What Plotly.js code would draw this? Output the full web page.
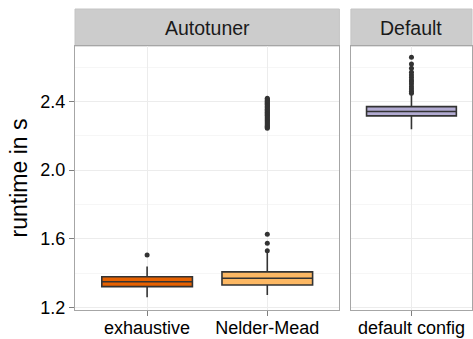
<!DOCTYPE html>
<html>
<head>
<meta charset="utf-8">
<script src="https://cdn.plot.ly/plotly-3.0.1.min.js"></script>
<style>html,body{margin:0;padding:0;background:#fff;}#chart{width:473px;height:339px;}</style>
</head>
<body>
<div id="chart"></div>
<script>
// Panels (facets)
const panels = ["Autotuner", "Default"];
// Categories per panel
const autoCats = ["exhaustive", "Nelder-Mead"];
const defCats = ["default config"];
// Box statistics [exhaustive, Nelder-Mead]
const autoQ1 = [1.321, 1.331];
const autoMedian = [1.350, 1.370];
const autoQ3 = [1.379, 1.407];
const autoLower = [1.259, 1.273];
const autoUpper = [1.438, 1.520];
// Default box
const defQ1 = [2.316];
const defMedian = [2.341];
const defQ3 = [2.370];
const defLower = [2.238];
const defUpper = [2.440];
// Outliers
const exhaustiveOut = [1.506];
const nelderOut = [1.530, 1.574, 1.626,
  2.244, 2.249, 2.254, 2.259, 2.264, 2.270, 2.276, 2.281, 2.287, 2.292, 2.298, 2.303,
  2.309, 2.315, 2.320, 2.326, 2.331, 2.337, 2.342, 2.348, 2.353, 2.358, 2.364, 2.369,
  2.374, 2.379, 2.384, 2.389, 2.394, 2.399, 2.404, 2.409, 2.414, 2.419];
const defaultOut = [2.448, 2.459, 2.473, 2.486, 2.502, 2.515, 2.525, 2.539, 2.554, 2.570, 2.593, 2.618, 2.657];
const fills = ["#E66101", "#FDB863", "#B2ABD2"];

const boxLine = {color: "#333333", width: 1.6};
const traces = [];
for (let i = 0; i < autoCats.length; i++) {
  traces.push({
    type: "box", x: [autoCats[i]], q1: [autoQ1[i]], median: [autoMedian[i]], q3: [autoQ3[i]],
    lowerfence: [autoLower[i]], upperfence: [autoUpper[i]],
    fillcolor: fills[i], line: boxLine, width: 0.754, whiskerwidth: 0,
    boxpoints: false, xaxis: "x", yaxis: "y", showlegend: false, hoverinfo: "skip"
  });
}
traces.push({
  type: "box", x: defCats, q1: defQ1, median: defMedian, q3: defQ3,
  lowerfence: defLower, upperfence: defUpper,
  fillcolor: fills[2], line: boxLine, width: 0.89, whiskerwidth: 0,
  boxpoints: false, xaxis: "x2", yaxis: "y2", showlegend: false, hoverinfo: "skip"
});
const ptMarker = {color: "#333333", size: 5};
traces.push({type: "scatter", mode: "markers", x: exhaustiveOut.map(() => autoCats[0]), y: exhaustiveOut, marker: ptMarker, xaxis: "x", yaxis: "y", showlegend: false});
traces.push({type: "scatter", mode: "markers", x: nelderOut.map(() => autoCats[1]), y: nelderOut, marker: ptMarker, xaxis: "x", yaxis: "y", showlegend: false});
traces.push({type: "scatter", mode: "markers", x: defaultOut.map(() => defCats[0]), y: defaultOut, marker: ptMarker, xaxis: "x2", yaxis: "y2", showlegend: false});

const plotH = 264;
const stripTop = 1 + 37 / plotH;
const d1 = [0, 0.666];
const d2 = [0.695, 1];
const gridC = "#ececec";
const minorC = "#f6f6f6";
const borderC = "#a6a6a6";
const font = {family: "Liberation Sans, Arial, sans-serif", color: "#000000"};
const yrange = [1.185, 2.723];
const tickSize = 18;

const yBase = {
  range: yrange, tick0: 1.2, dtick: 0.4, tickformat: ".1f",
  showgrid: true, gridcolor: gridC, gridwidth: 1,
  minor: {tick0: 1.4, dtick: 0.4, showgrid: true, gridcolor: minorC, gridwidth: 1},
  zeroline: false, showline: true, mirror: true, linecolor: borderC, linewidth: 1,
  fixedrange: true
};
const xBase = {
  type: "category", showgrid: true, gridcolor: gridC, ticks: "outside", ticklen: 5, tickcolor: "#7f7f7f",
  tickfont: {size: tickSize, color: "#000"}, ticklabelstandoff: -4,
  showline: true, mirror: true, linecolor: borderC, zeroline: false
};
const layout = {
  width: 473, height: 339,
  margin: {l: 75, r: 1, t: 46, b: 29},
  paper_bgcolor: "#ffffff", plot_bgcolor: "#ffffff",
  font: font,
  xaxis: Object.assign({}, xBase, {domain: d1, anchor: "y", categoryarray: autoCats, range: [-0.6, 1.6]}),
  xaxis2: Object.assign({}, xBase, {domain: d2, anchor: "y2", categoryarray: defCats, range: [-0.6, 0.6]}),
  yaxis: Object.assign({}, yBase, {anchor: "x", ticks: "outside", ticklen: 5, tickcolor: "#7f7f7f",
    tickfont: {size: tickSize, color: "#000"},
    title: {text: "runtime in s", font: {size: 23, color: "#000"}, standoff: 6}}),
  yaxis2: Object.assign({}, yBase, {anchor: "x2", matches: "y", showticklabels: false, ticks: ""}),
  shapes: [
    {type: "rect", xref: "paper", yref: "paper", x0: d1[0], x1: d1[1], y0: 1, y1: stripTop,
      fillcolor: "#cccccc", line: {color: "#c4c4c4", width: 1}, layer: "below"},
    {type: "rect", xref: "paper", yref: "paper", x0: d2[0], x1: d2[1], y0: 1, y1: stripTop,
      fillcolor: "#cccccc", line: {color: "#c4c4c4", width: 1}, layer: "below"}
  ],
  annotations: [
    {xref: "paper", yref: "paper", x: (d1[0] + d1[1]) / 2, y: (1 + stripTop) / 2, text: panels[0],
      showarrow: false, font: {size: 19.5, color: "#1a1a1a"}, xanchor: "center", yanchor: "middle"},
    {xref: "paper", yref: "paper", x: (d2[0] + d2[1]) / 2, y: (1 + stripTop) / 2, text: panels[1],
      showarrow: false, font: {size: 19.5, color: "#1a1a1a"}, xanchor: "center", yanchor: "middle"}
  ]
};
Plotly.newPlot("chart", traces, layout, {staticPlot: true, displayModeBar: false});
</script>
</body>
</html>
